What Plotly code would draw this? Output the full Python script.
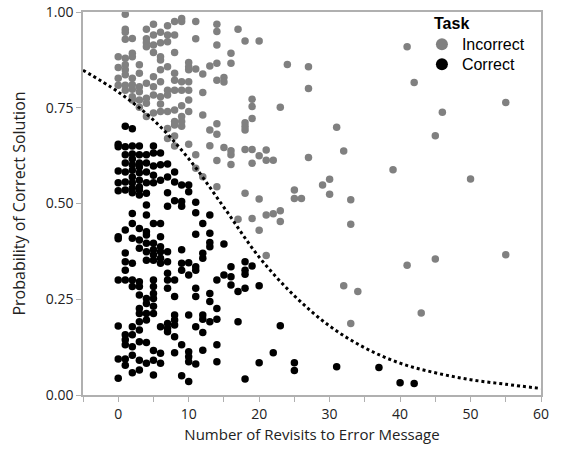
import plotly.graph_objects as go

# ---------------- data ----------------
# Incorrect (gray) points: x = number of revisits, y = probability
incorrect_x = (
    [0] * 4 + [1] * 10 + [2] * 8 + [3] * 6 + [4] * 8 + [5] * 8 + [6] * 9 + [7] * 9 +
    [8] * 11 + [9] * 8 + [10] * 8 + [11] * 5 + [12] * 4 + [13] * 3 + [14] * 9 +
    [15] * 3 + [16] * 5 + [17] * 2 + [18] * 6 + [19] * 6 + [20] * 4 + [21] * 4 +
    [22] * 2 + [23] * 3 + [24] + [25] * 2 + [26] + [27] * 3 + [29] + [30] * 2 +
    [31] + [32] * 2 + [33] * 3 + [34] + [39] + [41] * 2 + [42] + [43] + [45] * 2 +
    [46] + [50] + [55] * 2
)
incorrect_y = [
    0.883, 0.855, 0.827, 0.809,
    0.994, 0.955, 0.947, 0.929, 0.879, 0.862, 0.849, 0.836, 0.809, 0.796,
    0.931, 0.892, 0.883, 0.827, 0.810, 0.798, 0.779, 0.770,
    0.862, 0.840, 0.805, 0.792, 0.770, 0.751,
    0.955, 0.930, 0.920, 0.909, 0.814, 0.775, 0.762, 0.727,
    0.968, 0.940, 0.914, 0.894, 0.831, 0.805, 0.783, 0.736,
    0.947, 0.920, 0.883, 0.875, 0.849, 0.818, 0.779, 0.760, 0.740,
    0.964, 0.940, 0.922, 0.857, 0.796, 0.783, 0.740, 0.696, 0.670,
    0.975, 0.940, 0.894, 0.840, 0.822, 0.796, 0.744, 0.714, 0.705, 0.676, 0.650,
    0.983, 0.975, 0.818, 0.796, 0.755, 0.727, 0.714, 0.702,
    0.868, 0.857, 0.849, 0.818, 0.796, 0.770, 0.740, 0.655,
    0.975, 0.930, 0.851, 0.627, 0.592,
    0.838, 0.790, 0.731, 0.570,
    0.859, 0.692, 0.651,
    0.968, 0.949, 0.914, 0.866, 0.822, 0.708, 0.681, 0.612, 0.544,
    0.829, 0.817, 0.646,
    0.892, 0.866, 0.638, 0.627, 0.602,
    0.955, 0.459,
    0.924, 0.711, 0.701, 0.692, 0.641, 0.527,
    0.772, 0.753, 0.722, 0.641, 0.605, 0.461,
    0.924, 0.625, 0.512, 0.430,
    0.640, 0.613, 0.470, 0.364,
    0.613, 0.473,
    0.751, 0.481, 0.453,
    0.863,
    0.535, 0.513,
    0.513,
    0.857, 0.800, 0.620,
    0.548,
    0.563, 0.524,
    0.699,
    0.637, 0.285,
    0.510, 0.446, 0.187,
    0.270,
    0.588,
    0.909, 0.339,
    0.816,
    0.214,
    0.677, 0.355,
    0.738,
    0.564,
    0.764, 0.366,
]

# Correct (black) points
correct_x = (
    [0] * 11 + [1] * 17 + [2] * 21 + [3] * 22 + [4] * 18 + [5] * 19 + [6] * 12 +
    [7] * 12 + [8] * 10 + [9] * 8 + [10] * 9 + [11] * 9 + [12] * 7 + [13] * 7 +
    [14] * 5 + [15] * 2 + [16] * 3 + [17] * 2 + [18] * 5 + [19] + [20] * 2 +
    [22] + [23] + [25] * 2 + [31] + [37] + [40] + [42]
)
correct_y = [
    0.655, 0.648, 0.585, 0.554, 0.533, 0.413, 0.408, 0.300, 0.180, 0.094, 0.044,
    0.702, 0.648, 0.627, 0.606, 0.582, 0.556, 0.535, 0.431, 0.371, 0.348, 0.326,
    0.300, 0.157, 0.144, 0.131, 0.094, 0.078,
    0.695, 0.650, 0.629, 0.616, 0.601, 0.587, 0.569, 0.554, 0.540, 0.528, 0.474,
    0.448, 0.409, 0.344, 0.300, 0.283, 0.178, 0.157, 0.126, 0.104, 0.058,
    0.650, 0.627, 0.606, 0.595, 0.580, 0.561, 0.543, 0.535, 0.522, 0.435, 0.405,
    0.383, 0.296, 0.283, 0.261, 0.226, 0.213, 0.191, 0.170, 0.139, 0.091, 0.065,
    0.627, 0.606, 0.582, 0.554, 0.527, 0.496, 0.470, 0.426, 0.418, 0.396, 0.374,
    0.352, 0.252, 0.239, 0.213, 0.196, 0.137, 0.083,
    0.650, 0.632, 0.598, 0.574, 0.554, 0.448, 0.396, 0.379, 0.366, 0.352, 0.300,
    0.283, 0.265, 0.252, 0.232, 0.213, 0.116, 0.091, 0.052,
    0.632, 0.601, 0.561, 0.448, 0.413, 0.387, 0.374, 0.357, 0.344, 0.178, 0.109, 0.083,
    0.603, 0.569, 0.528, 0.493, 0.374, 0.348, 0.318, 0.300, 0.279, 0.187, 0.174, 0.165,
    0.582, 0.556, 0.507, 0.300, 0.257, 0.209, 0.196, 0.183, 0.152, 0.110,
    0.548, 0.505, 0.493, 0.379, 0.344, 0.326, 0.131, 0.050,
    0.548, 0.531, 0.345, 0.313, 0.209, 0.113, 0.100, 0.087, 0.035,
    0.503, 0.476, 0.420, 0.335, 0.326, 0.279, 0.257, 0.178, 0.081,
    0.448, 0.370, 0.357, 0.209, 0.198, 0.163, 0.117,
    0.470, 0.422, 0.398, 0.387, 0.265, 0.244, 0.191,
    0.300, 0.226, 0.198, 0.131, 0.087,
    0.394, 0.313,
    0.335, 0.309, 0.287,
    0.270, 0.191,
    0.348, 0.326, 0.315, 0.279, 0.042,
    0.337,
    0.285, 0.084,
    0.110,
    0.181,
    0.084, 0.064,
    0.074,
    0.072,
    0.032,
    0.030,
]

# Fitted curve (dotted)
curve_x = [-5, 0, 5, 10, 15, 20, 25, 30, 35, 40, 45, 50, 55, 60]
curve_y = [0.848, 0.791, 0.718, 0.617, 0.490, 0.360, 0.259, 0.180, 0.123, 0.083,
           0.058, 0.040, 0.028, 0.017]

x_ticks = [0, 10, 20, 30, 40, 50, 60]
y_ticks = [0.0, 0.25, 0.5, 0.75, 1.0]
y_tick_labels = ["0.00", "0.25", "0.50", "0.75", "1.00"]

# ---------------- figure ----------------
AXIS_FONT = "Open Sans"
LEG_FONT = "Liberation Sans, Arial, sans-serif"
AXCOL = "#b0b0b0"

fig = go.Figure()
fig.add_trace(go.Scatter(
    x=incorrect_x, y=incorrect_y, mode="markers", name="Incorrect",
    marker=dict(color="#808080", size=7.5, line=dict(width=0)),
    legend="legend",
))
fig.add_trace(go.Scatter(
    x=correct_x, y=correct_y, mode="markers", name="Correct",
    marker=dict(color="#000000", size=7.5, line=dict(width=0)),
    legend="legend2",
))
fig.add_trace(go.Scatter(
    x=curve_x, y=curve_y, mode="lines", showlegend=False,
    line=dict(color="#000000", width=3, dash="dot", shape="spline"),
))

legend_common = dict(
    font=dict(family=LEG_FONT, size=16, color="#000"),
    x=0.74, xanchor="left", yanchor="top",
    bgcolor="rgba(0,0,0,0)", itemsizing="constant",
)

fig.update_layout(
    width=561, height=452,
    margin=dict(l=83, r=20, t=12, b=57),
    paper_bgcolor="white", plot_bgcolor="white",
    font=dict(family=AXIS_FONT, size=13, color="#222222"),
    legend=dict(y=0.960, **legend_common),
    legend2=dict(y=0.908, **legend_common),
    annotations=[dict(
        text="<b>Task</b>", xref="paper", yref="paper", x=0.762, y=0.969,
        xanchor="left", yanchor="middle", showarrow=False,
        font=dict(family=LEG_FONT, size=16, color="#000"),
    )],
    xaxis=dict(
        range=[-5, 60], tickvals=x_ticks, ticks="outside", ticklen=5,
        tickcolor=AXCOL, showline=True, linecolor=AXCOL, linewidth=1.5, mirror=True,
        showgrid=False, zeroline=False, automargin=False,
        minor=dict(dtick=5, tick0=0, ticks="outside", ticklen=5, tickcolor=AXCOL, showgrid=False),
        title=dict(text="Number of Revisits to Error Message", standoff=8,
                   font=dict(family=AXIS_FONT, size=15, color="#222222")),
        tickfont=dict(size=14),
    ),
    yaxis=dict(
        range=[0, 1], tickvals=y_ticks, ticktext=y_tick_labels, ticks="outside",
        ticklen=5, tickcolor=AXCOL, showline=True, linecolor=AXCOL, linewidth=1.5,
        mirror=True, showgrid=False, zeroline=False, automargin=False,
        title=dict(text="Probability of Correct Solution", standoff=16,
                   font=dict(family=AXIS_FONT, size=16, color="#222222")),
        tickfont=dict(size=14),
    ),
)

fig.write_html("out.html", config={"displayModeBar": False},
               post_script="document.body.style.margin='0';")
